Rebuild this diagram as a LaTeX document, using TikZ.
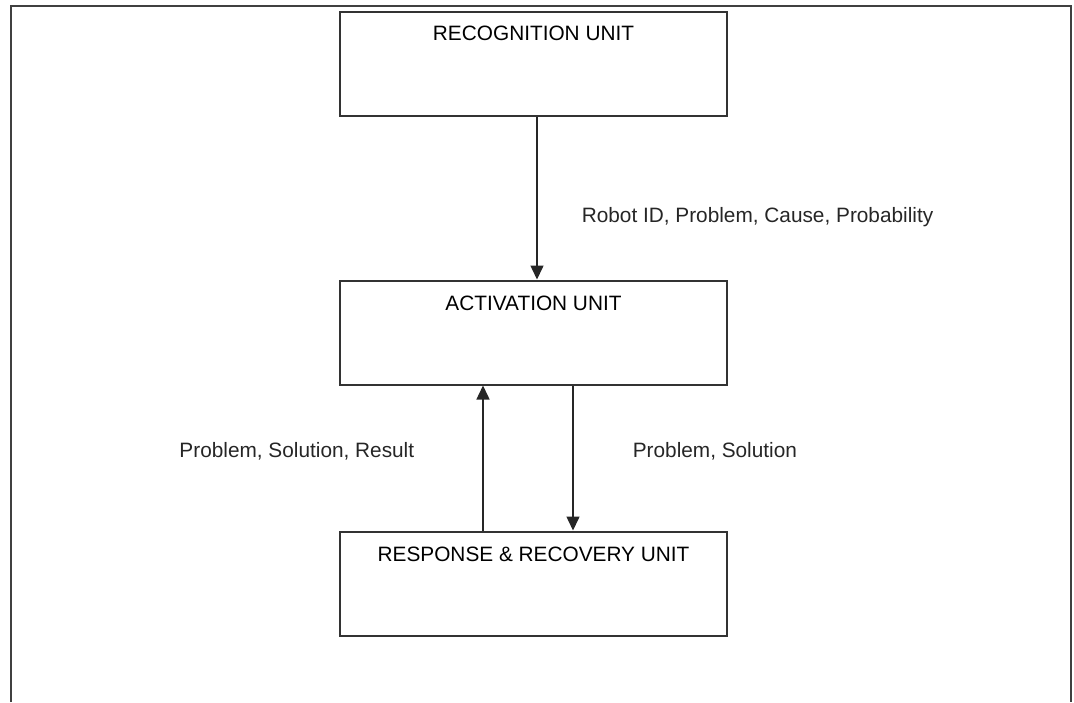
\documentclass[tikz,border=0pt]{standalone}
\usepackage{fontspec}
\setmainfont{Liberation Sans}
\usetikzlibrary{arrows.meta}
\tikzset{
	unitbox/.style={draw=black!80, line width=1pt, minimum width=193.5pt, minimum height=52pt, inner sep=0pt},
	flow/.style={-{Triangle[width=6.5pt,length=7pt]}, line width=0.75pt, black!85},
}
\begin{document}
\begin{tikzpicture}[x=0.5pt, y=-0.5pt, font=\fontsize{10.4}{12.5}\selectfont]
	\useasboundingbox (0,0) rectangle (1074,702);
	\draw[black!75, line width=1pt] (11,702) -- (11,6) -- (1071,6) -- (1071,702);
	\node[unitbox, label={[anchor=center, yshift=-11.25pt]north:RECOGNITION UNIT}] (U_rec) at (533.5,64) {};
	\node[unitbox, label={[anchor=center, yshift=-12pt]north:ACTIVATION UNIT}] (U_act) at (533.5,332.5) {};
	\node[unitbox, label={[anchor=center, yshift=-11.75pt]north:RESPONSE \& RECOVERY UNIT}] (U_rr) at (533.5,583.5) {};
	\draw[flow] ([xshift=1.75pt]U_rec.south) -- ([xshift=1.75pt]U_act.north)
		node[pos=0.615, right=18.7pt] {Robot ID, Problem, Cause, Probability};
	\draw[flow] ([xshift=-25.25pt]U_rr.north) -- ([xshift=-25.25pt]U_act.south)
		node[pos=0.544, left=30.7pt] {Problem, Solution, Result};
	\draw[flow] ([xshift=19.75pt]U_act.south) -- ([xshift=19.75pt]U_rr.north)
		node[pos=0.456, right=26.2pt] {Problem, Solution};
\end{tikzpicture}
\end{document}
